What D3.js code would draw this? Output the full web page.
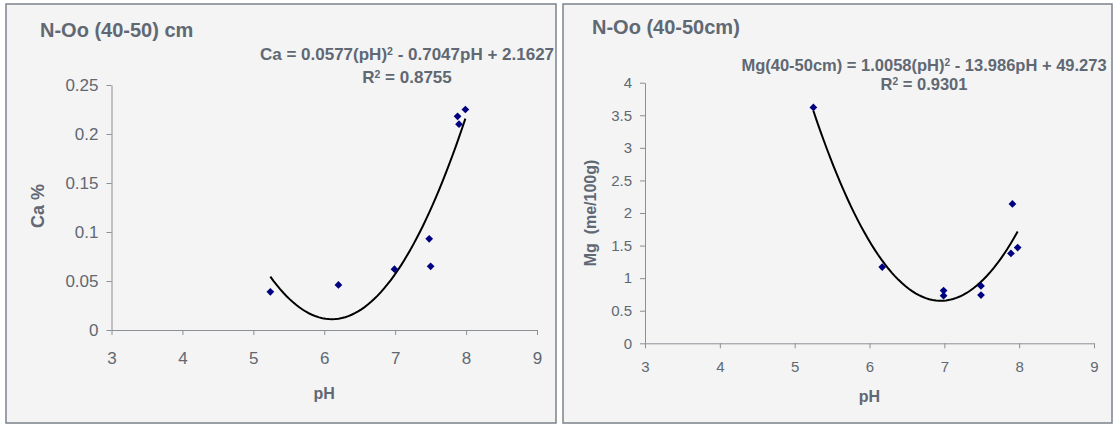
<!DOCTYPE html>
<html>
<head>
<meta charset="utf-8">
<script src="https://cdn.jsdelivr.net/npm/d3@7"></script>
<style>
  body { margin: 0; background: #ffffff; }
  svg text { font-family: "Liberation Sans", Arial, sans-serif; fill: #5f6873; }
</style>
</head>
<body>
<svg id="chart" width="1119" height="425"></svg>
<script>
// ---- data ----
var caPH   = [5.24, 6.20, 6.99, 7.48, 7.50, 7.88, 7.90, 7.99];
var caVal  = [0.039, 0.046, 0.062, 0.093, 0.065, 0.218, 0.210, 0.225];
var caCoef = [0.0577, -0.7047, 2.1627];   // a, b, c of the trend line
var caYTicks = [0, 0.05, 0.1, 0.15, 0.2, 0.25];

var mgPH   = [5.25, 6.17, 6.99, 6.99, 7.49, 7.49, 7.91, 7.89, 7.98];
var mgVal  = [3.62, 1.17, 0.81, 0.73, 0.88, 0.74, 2.14, 1.38, 1.47];
var mgCoef = [1.0058, -13.986, 49.273];
var mgYTicks = [0, 0.5, 1, 1.5, 2, 2.5, 3, 3.5, 4];

var phTicks = [3, 4, 5, 6, 7, 8, 9];

var caTitle = "N-Oo (40-50) cm";
var caEq    = ["Ca = 0.0577(pH)", "2", " - 0.7047pH + 2.1627"];
var caR2    = "0.8755";
var caYName = "Ca %";

var mgTitle = "N-Oo (40-50cm)";
var mgEq    = ["Mg(40-50cm) = 1.0058(pH)", "2", " - 13.986pH + 49.273"];
var mgR2    = "0.9301";
var mgYName = "Mg  (me/100g)";

var svg = d3.select('#chart');

function drawPanel(p) {
  var g = svg.append('g');

  g.append('rect')
    .attr('x', p.box[0]).attr('y', p.box[1])
    .attr('width', p.box[2]).attr('height', p.box[3])
    .attr('fill', '#f4f4f4')
    .attr('stroke', '#7b838b')
    .attr('stroke-width', 1.5);

  var x = d3.scaleLinear().domain([3, 9]).range([p.plot[0], p.plot[1]]);
  var y = d3.scaleLinear().domain([0, p.yTicks[p.yTicks.length - 1]]).range([p.plot[3], p.plot[2]]);

  var xAxis = g.append('g')
    .attr('transform', 'translate(0,' + p.plot[3] + ')')
    .call(d3.axisBottom(x).tickValues(phTicks).tickSize(5).tickSizeOuter(0).tickPadding(p.xPad)
      .tickFormat(function(d){ return String(d); }));
  var yAxis = g.append('g')
    .attr('transform', 'translate(' + p.plot[0] + ',0)')
    .call(d3.axisLeft(y).tickValues(p.yTicks).tickSize(5).tickSizeOuter(0).tickPadding(8)
      .tickFormat(function(d){ return String(d); }));

  [xAxis, yAxis].forEach(function(a){
    a.selectAll('path,line').attr('stroke', '#8a9096').attr('stroke-width', 1);
    a.selectAll('text').attr('font-size', p.tickFont).style('fill', '#5f6873');
  });

  // trend line from the printed equation, over the data's pH range
  var lo = d3.min(p.ph), hi = d3.max(p.ph);
  var curve = d3.range(0, 61).map(function(i){
    var t = lo + (hi - lo) * i / 60;
    return [t, p.coef[0] * t * t + p.coef[1] * t + p.coef[2]];
  });
  g.append('path')
    .datum(curve)
    .attr('fill', 'none')
    .attr('stroke', '#000')
    .attr('stroke-width', 2)
    .attr('d', d3.line().x(function(d){ return x(d[0]); }).y(function(d){ return y(d[1]); }));

  var diamond = d3.symbol().type(d3.symbolSquare).size(30);
  g.selectAll('.pt')
    .data(p.ph.map(function(v, i){ return [v, p.val[i]]; }))
    .enter().append('path')
    .attr('class', 'pt')
    .attr('d', diamond)
    .attr('fill', '#000080')
    .attr('transform', function(d){ return 'translate(' + x(d[0]) + ',' + y(d[1]) + ') rotate(45)'; });

  g.append('text')
    .attr('x', p.titlePos[0]).attr('y', p.titlePos[1])
    .attr('font-size', '20px').attr('font-weight', 'bold')
    .text(p.title);

  var eq = g.append('text')
    .attr('x', p.eqPos[0]).attr('y', p.eqPos[1])
    .attr('text-anchor', 'middle')
    .attr('font-size', p.eqFont).attr('font-weight', 'bold');
  eq.append('tspan').text(p.eq[0]);
  eq.append('tspan').attr('dy', '-0.45em').attr('font-size', '0.62em').text(p.eq[1]);
  eq.append('tspan').attr('dy', '0.28em').text(p.eq[2]);

  var r2 = g.append('text')
    .attr('x', p.eqPos[0]).attr('y', p.eqPos[2])
    .attr('text-anchor', 'middle')
    .attr('font-size', p.eqFont).attr('font-weight', 'bold');
  r2.append('tspan').text('R');
  r2.append('tspan').attr('dy', '-0.45em').attr('font-size', '0.62em').text('2');
  r2.append('tspan').attr('dy', '0.28em').text(' = ' + p.r2);

  g.append('text')
    .attr('transform', 'translate(' + p.yNamePos[0] + ',' + p.yNamePos[1] + ') rotate(-90)')
    .attr('text-anchor', 'middle')
    .attr('font-size', p.yNameFont).attr('font-weight', 'bold')
    .style('white-space', 'pre')
    .text(p.yName);

  g.append('text')
    .attr('x', (p.plot[0] + p.plot[1]) / 2).attr('y', p.xNameY)
    .attr('text-anchor', 'middle')
    .attr('font-size', '16px').attr('font-weight', 'bold')
    .text('pH');
}

drawPanel({
  box: [6, 4, 550, 419],
  plot: [111.5, 537, 85, 330],
  ph: caPH, val: caVal, coef: caCoef, yTicks: caYTicks,
  tickFont: '17px', xPad: 17,
  title: caTitle, titlePos: [40, 37],
  eq: caEq, r2: caR2, eqPos: [407, 60, 83], eqFont: '17px',
  yName: caYName, yNamePos: [44, 206], yNameFont: '18px',
  xNameY: 399
});

drawPanel({
  box: [563, 4, 549, 419],
  plot: [645, 1094, 82.7, 343.3],
  ph: mgPH, val: mgVal, coef: mgCoef, yTicks: mgYTicks,
  tickFont: '15px', xPad: 13,
  title: mgTitle, titlePos: [592, 34],
  eq: mgEq, r2: mgR2, eqPos: [924, 71, 90], eqFont: '16.5px',
  yName: mgYName, yNamePos: [596, 213], yNameFont: '16px',
  xNameY: 402
});
</script>
</body>
</html>
